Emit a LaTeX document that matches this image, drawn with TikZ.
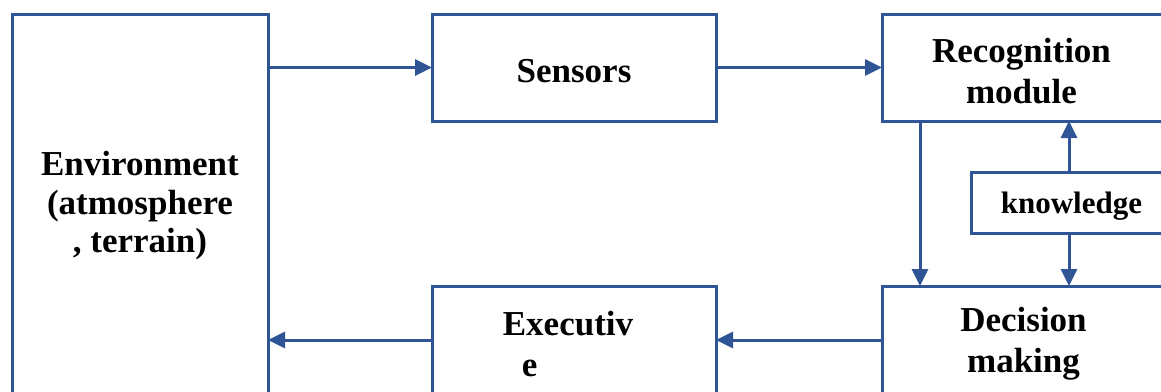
\documentclass[tikz,border=0pt]{standalone}
\usepackage{fontspec}
\setmainfont{Liberation Serif}
\usetikzlibrary{arrows.meta}
\definecolor{lineblue}{RGB}{47,85,151}
\begin{document}
\begin{tikzpicture}[x=1pt,y=-1pt,
  blockbox/.style={draw=lineblue, line width=3pt, fill=white, inner sep=0pt, outer sep=0pt},
  lbl/.style={inner sep=0pt, align=center, font=\fontsize{35}{41}\selectfont\bfseries},
  conn/.style={draw=lineblue, line width=3pt, -{Triangle[length=17pt,width=16pt]}}]
\useasboundingbox (0,0) rectangle (1161,391);
\clip (0,0) rectangle (1161,391);
\node[blockbox, minimum width=256pt, minimum height=382pt] (env) at (140,205) {};
\node[blockbox, minimum width=284pt, minimum height=107pt] (sens) at (574,67.5) {};
\node[blockbox, minimum width=283pt, minimum height=107pt] (rec) at (1023.5,67.5) {};
\node[blockbox, minimum width=201pt, minimum height=61pt] (know) at (1071.5,202.5) {};
\node[blockbox, minimum width=283pt, minimum height=108pt] (dec) at (1023.5,340) {};
\node[blockbox, minimum width=284pt, minimum height=108pt] (exec) at (574,340) {};
\node[lbl, font=\fontsize{35}{38.5}\selectfont\bfseries] (envlabel) at ([yshift=-1pt]env.center) {Environment\\(atmosphere\\, terrain)};
\node[lbl] (senslabel) at ([yshift=-4pt]sens.center) {Sensors};
\node[lbl] (reclabel) at ([xshift=-2pt,yshift=-3.5pt]rec.center) {Recognition\\module};
\node[lbl, font=\fontsize{31}{36}\selectfont\bfseries] (knowlabel) at ([yshift=-4pt]know.center) {knowledge};
\node[lbl] (declabel) at ([yshift=-4pt]dec.center) {Decision\\making};
\node[lbl, align=left] (execlabel) at (568,344) {Executiv\\\hspace*{19pt}e};
\draw[conn] (env.east |- sens.west) -- (sens.west);
\draw[conn] (sens.east) -- (rec.west |- sens.east);
\draw[conn] ([xshift=38pt]rec.south west) -- ([xshift=38pt]dec.north west);
\draw[conn] ([xshift=-2.5pt]know.north) -- ([xshift=-2.5pt]know.north |- rec.south);
\draw[conn] ([xshift=-2.5pt]know.south) -- ([xshift=-2.5pt]know.south |- dec.north);
\draw[conn] (dec.west |- exec.east) -- (exec.east);
\draw[conn] (exec.west) -- (env.east |- exec.west);
\end{tikzpicture}
\end{document}
